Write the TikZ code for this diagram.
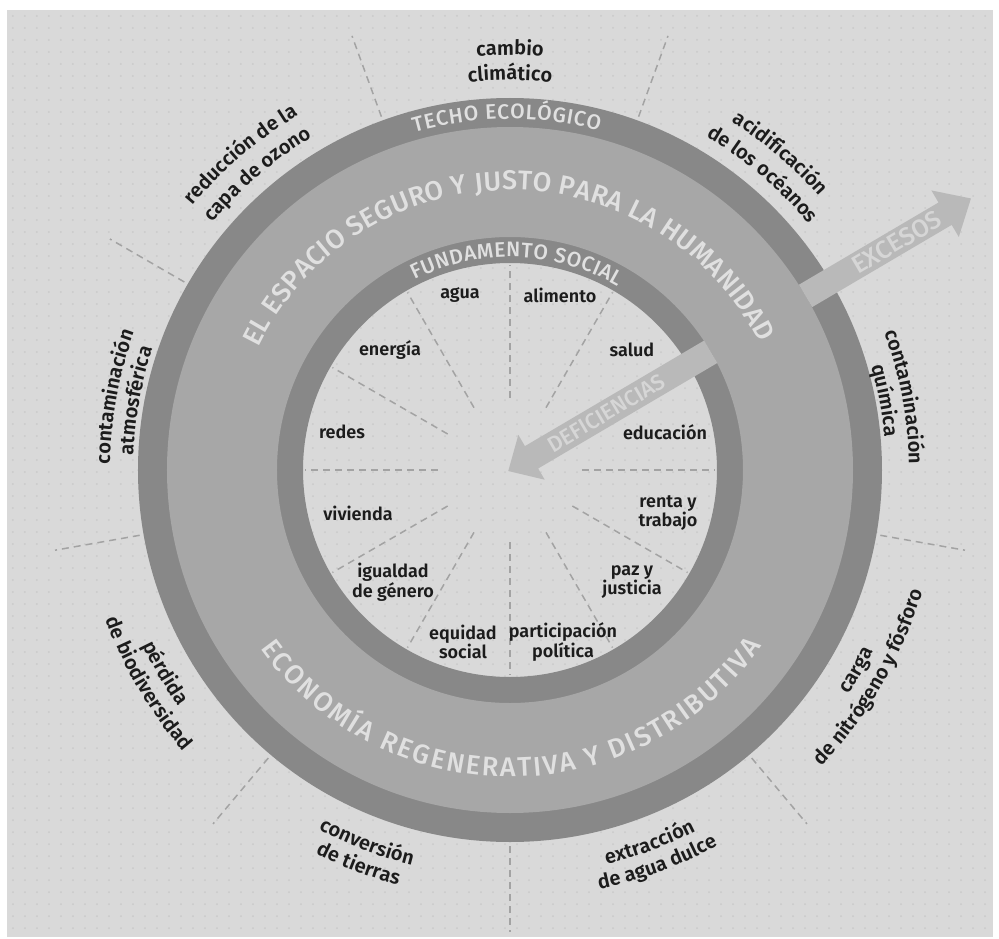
\documentclass[tikz,border=0pt]{standalone}
\usepackage{fontspec}
\setmainfont{Fira Sans}
\IfFontExistsTF{Fira Sans Medium}{\newfontfamily\ringfam{Fira Sans Medium}}{\newfontfamily\ringfam{Fira Sans}}
\IfFontExistsTF{Fira Sans SemiBold}{\newfontfamily\labfam{Fira Sans SemiBold}}{\newfontfamily\labfam{Fira Sans Bold}}
\usetikzlibrary{decorations.text}
\definecolor{bgc}{HTML}{D9D9D9}
\definecolor{dotc}{HTML}{C9C9C9}
\definecolor{ringdark}{HTML}{888888}
\definecolor{ringband}{HTML}{A7A7A7}
\definecolor{arrowc}{HTML}{B9B9B9}
\definecolor{dashc}{HTML}{A3A3A3}
\definecolor{ringtxt}{HTML}{E0E0E0}
\definecolor{arrowtxt}{HTML}{D6D6D6}
\definecolor{labtxt}{HTML}{1C1C1C}
\newcommand\outfont{\labfam\fontsize{20}{20}\selectfont\color{labtxt}}
\newcommand\bigringfont{\ringfam\fontsize{27}{27}\selectfont\color{ringtxt}}
\newcommand\smallringfont{\ringfam\fontsize{21}{21}\selectfont\color{ringtxt}}
\newcommand\cwlabel[3]{\path[decorate,decoration={text along path,text align=center,text={|\outfont|#3}}] ({#1+45}:#2) arc[start angle={#1+45},end angle={#1-45},radius=#2];}
\newcommand\ccwlabel[3]{\path[decorate,decoration={text along path,text align=center,text={|\outfont|#3}}] ({#1-45}:#2) arc[start angle={#1-45},end angle={#1+45},radius=#2];}
\tikzset{
  dashline/.style={draw=dashc, line width=1.5pt, dash pattern=on 7pt off 5pt},
  inlab/.style={inner sep=0pt, align=center, text=labtxt, font=\labfam\fontsize{18}{18}\selectfont},
  arrowlab/.style={inner sep=0pt, text=arrowtxt, rotate=30.5}
}
\begin{document}
\begin{tikzpicture}[x=1pt,y=1pt]
\useasboundingbox (-510,-468) rectangle (489,470);
\fill[white] (-510,-468) rectangle (489,470);
\fill[bgc] (-503,-467) rectangle (483,460);
\begin{scope}
\clip (-503,-467) rectangle (483,460);
\foreach \i in {0,...,77} {
  \draw[dotc, line width=2pt, line cap=round, dash pattern=on 0pt off 12pt] (-497,{454-\i*12}) -- (483,{454-\i*12});
}
\end{scope}
% rings
\fill[ringdark, even odd rule] (0,0) circle[radius=372] (0,0) circle[radius=207];
\fill[ringband, even odd rule] (0,0) circle[radius=343] (0,0) circle[radius=233];
% dashed separators
\foreach \a in {0,30,...,330} \draw[dashline] (\a:72) -- (\a:205);
\foreach \a in {70,110,150,190,230,270,310,350} \draw[dashline] (\a:376) -- (\a:462);
% arrows
\begin{scope}[rotate=30.5]
\fill[arrowc] (343,-13) -- (505,-13) -- (505,-27) -- (535,0) -- (505,27) -- (505,13) -- (343,13) -- cycle;
\fill[arrowc] (233,-13) -- (25,-13) -- (25,-26) -- (-2,0) -- (25,26) -- (25,13) -- (233,13) -- cycle;
\end{scope}
\node[arrowlab, font=\ringfam\fontsize{25}{25}\selectfont] (exc) at (30.5:449) {EXCESOS};
\node[arrowlab, font=\ringfam\fontsize{22}{22}\selectfont] (def) at (30.5:112) {DEFICIENCIAS};
% ring texts
\path[decorate,decoration={text along path,text align=fit to path,text={|\smallringfont|TECHO ECOLÓGICO}}] (105.8:351) arc[start angle=105.8,end angle=75.3,radius=351];
\path[decorate,decoration={text along path,text align=fit to path,text={|\bigringfont|EL ESPACIO SEGURO Y JUSTO PARA LA HUMANIDAD}}] (154:280) arc[start angle=154,end angle=27,radius=280];
\path[decorate,decoration={text along path,text align=fit to path,text={|\smallringfont|FUNDAMENTO SOCIAL}}] (116.7:213) arc[start angle=116.7,end angle=59.5,radius=213];
\path[decorate,decoration={text along path,text align=fit to path,text={|\bigringfont|ECONOMÍA REGENERATIVA Y DISTRIBUTIVA}}] (215.5:307) arc[start angle=215.5,end angle=325,radius=307];
% outer labels (top: tops outward)
\cwlabel{90}{415}{cambio}
\cwlabel{90}{390}{climático}
\cwlabel{130.5}{413}{reducción de la}
\cwlabel{130.5}{387}{capa de ozono}
\cwlabel{49.5}{413}{acidificación}
\cwlabel{49.5}{387}{de los océanos}
\cwlabel{10.5}{399}{contaminación}
\cwlabel{10.5}{376}{química}
\cwlabel{169.5}{400}{contaminación}
\cwlabel{169.5}{377}{atmosférica}
% outer labels (bottom: tops inward)
\ccwlabel{210.5}{407}{pérdida}
\ccwlabel{210.5}{431}{de biodiversidad}
\ccwlabel{249}{407}{conversión}
\ccwlabel{249}{430}{de tierras}
\ccwlabel{290.5}{406}{extracción}
\ccwlabel{290.5}{429}{de agua dulce}
\ccwlabel{330}{406}{carga}
\ccwlabel{330}{430}{de nitrógeno y fósforo}
% inner labels
\node[inlab] (agua) at (-50,175) {agua};
\node[inlab] (alimento) at (50,175) {alimento};
\node[inlab] (energia) at (-120,120) {energía};
\node[inlab] (salud) at (122,120) {salud};
\node[inlab] (redes) at (-168,38) {redes};
\node[inlab] (educacion) at (155,38) {educación};
\node[inlab] (vivienda) at (-152,-43) {vivienda};
\node[inlab] (renta) at (158,-43) {renta y\\trabajo};
\node[inlab] (igualdad) at (-117,-112) {igualdad\\de género};
\node[inlab] (paz) at (122,-112) {paz y\\justicia};
\node[inlab] (equidad) at (-47,-172) {equidad\\social};
\node[inlab] (participacion) at (53,-172) {participación\\política};
\end{tikzpicture}
\end{document}
